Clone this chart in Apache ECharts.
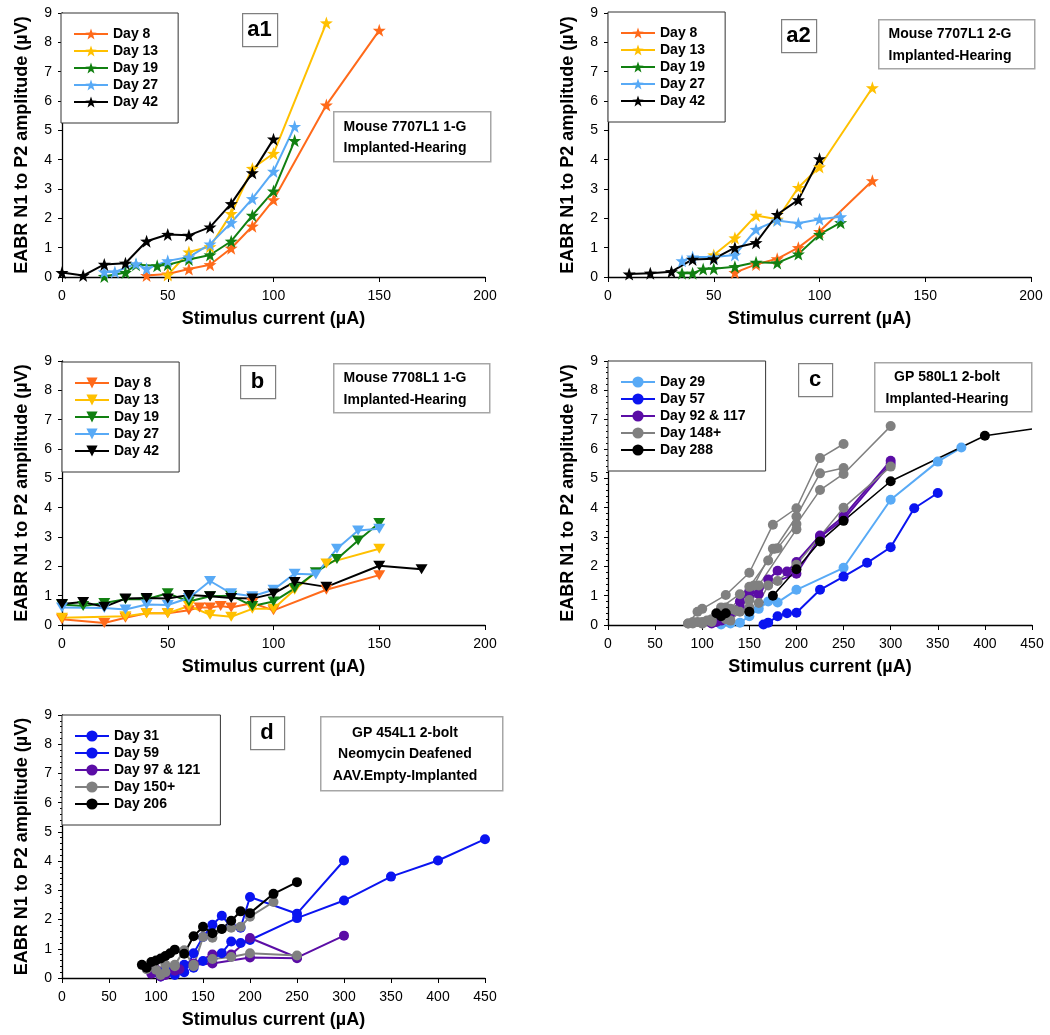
<!DOCTYPE html>
<html>
<head>
<meta charset="utf-8">
<script src="https://cdn.jsdelivr.net/npm/echarts@6/dist/echarts.min.js"></script>
<style>
html, body { margin: 0; padding: 0; background: #fff; }
#chart { width: 1050px; height: 1035px; }
</style>
</head>
<body>
<div id="chart"></div>
<script>
"use strict";

/***** Data start *****/
var xTicksMouse = [0, 50, 100, 150, 200];
var xTicksGP = [0, 50, 100, 150, 200, 250, 300, 350, 400, 450];
var yTicks = [0, 1, 2, 3, 4, 5, 6, 7, 8, 9];

// panel a1 - Mouse 7707L1 1-G
var a1Day8 = [[40,0.05],[50,0.1],[60,0.27],[70,0.42],[80,0.98],[90,1.73],[100,2.63],[125,5.86],[150,8.41]];
var a1Day13 = [[50,0.07],[60,0.85],[70,1.03],[80,2.16],[90,3.7],[100,4.21],[125,8.66]];
var a1Day19 = [[20,0.02],[30,0.15],[35,0.42],[45,0.38],[50,0.42],[60,0.6],[70,0.75],[80,1.22],[90,2.1],[100,2.93],[110,4.65]];
var a1Day27 = [[20,0.17],[25,0.17],[35,0.45],[40,0.28],[50,0.55],[60,0.68],[70,1.12],[80,1.85],[90,2.67],[100,3.6],[110,5.13]];
var a1Day42 = [[0,0.15],[10,0.05],[20,0.43],[30,0.47],[40,1.22],[50,1.45],[60,1.42],[70,1.7],[80,2.5],[90,3.55],[100,4.7]];

// panel a2 - Mouse 7707L1 2-G
var a2Day8 = [[60,0.15],[70,0.43],[80,0.62],[90,1.0],[100,1.55],[125,3.28]];
var a2Day13 = [[50,0.75],[60,1.33],[70,2.1],[80,1.97],[90,3.05],[100,3.75],[125,6.45]];
var a2Day19 = [[35,0.13],[40,0.13],[45,0.27],[50,0.28],[60,0.35],[70,0.5],[80,0.48],[90,0.78],[100,1.45],[110,1.85]];
var a2Day27 = [[35,0.55],[40,0.68],[50,0.68],[60,0.75],[70,1.62],[80,1.93],[90,1.83],[100,1.97],[110,2.05]];
var a2Day42 = [[10,0.1],[20,0.13],[30,0.18],[40,0.6],[50,0.62],[60,1.0],[70,1.17],[80,2.13],[90,2.63],[100,4.03]];

// panel b - Mouse 7708L1 1-G
var bDay8 = [[0,0.2],[20,0.07],[30,0.25],[40,0.4],[50,0.4],[60,0.5],[65,0.6],[70,0.6],[75,0.65],[80,0.6],[90,0.75],[100,0.5],[125,1.2],[150,1.7]];
var bDay13 = [[0,0.25],[30,0.3],[40,0.4],[50,0.4],[60,0.65],[70,0.35],[80,0.28],[90,0.55],[100,0.55],[110,1.2],[125,2.1],[150,2.6]];
var bDay19 = [[0,0.7],[10,0.65],[20,0.75],[30,0.88],[40,0.88],[50,1.08],[60,0.8],[70,0.98],[80,1.0],[90,0.65],[100,0.8],[110,1.25],[120,1.8],[130,2.25],[140,2.88],[150,3.48]];
var bDay27 = [[0,0.6],[20,0.58],[30,0.53],[40,0.7],[50,0.68],[60,0.92],[70,1.5],[80,1.08],[90,0.98],[100,1.2],[110,1.75],[120,1.72],[130,2.6],[140,3.22],[150,3.28]];
var bDay42 = [[0,0.72],[10,0.78],[20,0.62],[30,0.9],[40,0.92],[50,0.9],[60,1.02],[70,0.98],[80,0.92],[90,0.9],[100,1.07],[110,1.47],[125,1.3],[150,2.02],[170,1.9]];

// panel c - GP 580L1 2-bolt
var cDay29 = [[120,0.02],[130,0.05],[140,0.08],[150,0.3],[160,0.55],[170,0.8],[180,0.77],[200,1.2],[250,1.95],[300,4.27],[350,5.57],[375,6.05]];
var cDay57 = [[165,0.02],[170,0.08],[180,0.3],[190,0.4],[200,0.42],[225,1.2],[250,1.65],[275,2.12],[300,2.65],[325,3.98],[350,4.5]];
var cDay92 = [[110,0.05],[120,0.15],[130,0.4],[140,0.8],[150,1.15],[160,1.05],[170,1.55],[180,1.85],[190,1.82],[200,2.15],[225,3.05],[250,3.7],[300,5.6]];
var cDay117 = [[115,0.1],[125,0.3],[140,0.6],[150,0.95],[160,1.25],[200,1.75],[225,3.0],[250,3.6],[300,5.5]];
var cDay148a = [[85,0.05],[95,0.45],[100,0.55],[125,1.02],[150,1.78],[175,3.42],[200,3.98],[225,5.69],[250,6.17]];
var cDay148b = [[90,0.05],[100,0.1],[110,0.2],[130,0.55],[150,1.3],[170,2.2],[177,2.6],[200,3.7],[225,5.17],[250,5.35]];
var cDay148c = [[95,0.1],[105,0.15],[120,0.6],[140,1.05],[155,1.35],[175,2.6],[180,2.62],[200,3.44],[225,4.6],[250,5.15],[300,6.78]];
var cDay148d = [[100,0.05],[110,0.1],[125,0.2],[135,0.5],[150,0.85],[160,0.75],[170,1.35],[180,1.5],[200,2.05],[250,4.0],[300,5.4]];
var cDay148e = [[85,0.05],[90,0.1],[100,0.05],[110,0.15],[125,0.6],[130,0.15],[140,0.45],[150,0.6],[160,1.35],[200,3.26]];
var cDay288 = [[115,0.4],[120,0.3],[125,0.4],[150,0.45],[175,1.0],[200,1.9],[225,2.85],[250,3.55],[300,4.9],[400,6.45],[450,6.68]];

// panel d - GP 454L1 2-bolt
var dDay31 = [[100,0.2],[110,0.3],[120,0.1],[130,0.2],[140,0.85],[150,1.4],[160,1.82],[170,2.13],[180,1.75],[190,1.72],[200,2.77],[250,2.2],[300,4.02]];
var dDay59 = [[105,0.05],[115,0.3],[130,0.45],[140,0.35],[150,0.58],[160,0.65],[170,0.85],[180,1.25],[190,1.2],[200,1.3],[250,2.05],[300,2.65],[350,3.47],[400,4.02],[450,4.75]];
var dDay97 = [[95,0.15],[105,0.05],[120,0.25],[140,0.5],[160,0.8],[180,0.8],[200,1.37],[250,0.7],[300,1.45]];
var dDay121 = [[100,0.3],[110,0.1],[125,0.3],[140,0.45],[160,0.5],[200,0.7],[250,0.68]];
var dDay150a = [[90,0.3],[100,0.28],[110,0.45],[120,0.45],[130,0.95],[140,0.4],[150,1.4],[160,1.38],[170,1.68],[180,1.72],[190,1.75],[200,2.1],[225,2.6]];
var dDay150b = [[105,0.1],[110,0.2],[120,0.4],[140,0.45],[160,0.65],[180,0.72],[200,0.85],[250,0.77]];
var dDay206 = [[85,0.45],[90,0.35],[95,0.55],[100,0.6],[105,0.67],[110,0.75],[115,0.85],[120,0.97],[130,0.83],[140,1.43],[150,1.75],[160,1.53],[170,1.68],[180,1.96],[190,2.28],[200,2.22],[225,2.88],[250,3.28]];
/***** Data end *****/

var FONT = "'Liberation Sans', Arial, sans-serif";
var STAR = 'path://M0,-10L2.35,-3.24L9.51,-3.09L3.8,1.24L5.88,8.09L0,4L-5.88,8.09L-3.8,1.24L-9.51,-3.09L-2.35,-3.24Z';
var TRI = 'path://M-10,-8L10,-8L0,9Z';

var ORANGE = '#ff6a1a', YELLOW = '#ffc000', GREEN = '#118011', LBLUE = '#58aaf6', BLACK = '#000000';
var BLUE = '#0a14f0', PURPLE = '#5b0da6', GRAY = '#808080';

// panel boxes: plot area rect in page pixels
var panels = [
	{ left: 62, top: 13, width: 423, height: 264, xMax: 200, minor: false },
	{ left: 608, top: 13, width: 423, height: 264, xMax: 200, minor: false },
	{ left: 62, top: 361, width: 423, height: 264, xMax: 200, minor: false },
	{ left: 608, top: 361, width: 424, height: 264, xMax: 450, minor: true },
	{ left: 62, top: 715, width: 423, height: 263, xMax: 450, minor: true }
];

var grids = [], xAxes = [], yAxes = [];
panels.forEach(function (p) {
	grids.push({ left: p.left, top: p.top, width: p.width, height: p.height, containLabel: false });
	xAxes.push({
		type: 'value', gridIndex: grids.length - 1, min: 0, max: p.xMax, interval: 50,
		name: 'Stimulus current (\u00b5A)', nameLocation: 'middle', nameGap: 33,
		nameTextStyle: { fontFamily: FONT, fontWeight: 'bold', fontSize: 18, color: '#000' },
		axisLine: { lineStyle: { color: '#000', width: 1.3 } },
		axisTick: { show: true, length: 5, lineStyle: { color: '#000' } },
		axisLabel: { fontFamily: FONT, fontSize: 14, color: '#000', margin: 12 },
		splitLine: { show: false }
	});
	yAxes.push({
		type: 'value', gridIndex: grids.length - 1, min: 0, max: 9, interval: 1,
		name: 'EABR N1 to P2 amplitude (\u00b5V)', nameLocation: 'middle', nameGap: 31,
		nameTextStyle: { fontFamily: FONT, fontWeight: 'bold', fontSize: 18, color: '#000' },
		axisLine: { show: true, lineStyle: { color: '#000', width: 1.3 } },
		axisTick: { show: true, length: 4, lineStyle: { color: '#000' } },
		minorTick: { show: p.minor, splitNumber: 5, length: 2, lineStyle: { color: '#000' } },
		axisLabel: { fontFamily: FONT, fontSize: 14, color: '#000', margin: 10 },
		splitLine: { show: false }
	});
});

var series = [];
function addLine(panel, name, data, color, symbol, size, width) {
	series.push({
		type: 'line', name: name, xAxisIndex: panel, yAxisIndex: panel,
		data: data, symbol: symbol, symbolSize: size, showAllSymbol: true,
		lineStyle: { color: color, width: width || 2 },
		itemStyle: { color: color },
		emphasis: { disabled: true }, animation: false
	});
}

// a1
addLine(0, 'Day 8', a1Day8, ORANGE, STAR, 13);
addLine(0, 'Day 13', a1Day13, YELLOW, STAR, 13);
addLine(0, 'Day 19', a1Day19, GREEN, STAR, 13);
addLine(0, 'Day 27', a1Day27, LBLUE, STAR, 13);
addLine(0, 'Day 42', a1Day42, BLACK, STAR, 13);
// a2 (trailing space keeps legends separate)
addLine(1, 'Day 8 ', a2Day8, ORANGE, STAR, 13);
addLine(1, 'Day 13 ', a2Day13, YELLOW, STAR, 13);
addLine(1, 'Day 19 ', a2Day19, GREEN, STAR, 13);
addLine(1, 'Day 27 ', a2Day27, LBLUE, STAR, 13);
addLine(1, 'Day 42 ', a2Day42, BLACK, STAR, 13);
// b
addLine(2, 'Day 8  ', bDay8, ORANGE, TRI, [12, 10]);
addLine(2, 'Day 13  ', bDay13, YELLOW, TRI, [12, 10]);
addLine(2, 'Day 19  ', bDay19, GREEN, TRI, [12, 10]);
addLine(2, 'Day 27  ', bDay27, LBLUE, TRI, [12, 10]);
addLine(2, 'Day 42  ', bDay42, BLACK, TRI, [12, 10]);
// c
addLine(3, 'Day 29', cDay29, LBLUE, 'circle', 10);
addLine(3, 'Day 57', cDay57, BLUE, 'circle', 10);
addLine(3, 'Day 92 & 117', cDay92, PURPLE, 'circle', 10);
addLine(3, 'Day 92 & 117', cDay117, PURPLE, 'circle', 10);
addLine(3, 'Day 148+', cDay148a, GRAY, 'circle', 10, 1.5);
addLine(3, 'Day 148+', cDay148b, GRAY, 'circle', 10, 1.5);
addLine(3, 'Day 148+', cDay148c, GRAY, 'circle', 10, 1.5);
addLine(3, 'Day 148+', cDay148d, GRAY, 'circle', 10, 1.5);
addLine(3, 'Day 148+', cDay148e, GRAY, 'circle', 10, 1.5);
addLine(3, 'Day 288', cDay288.map(function (d, i) {
	return i === cDay288.length - 1 ? { value: d, symbol: 'none' } : d;
}), BLACK, 'circle', 10, 1.5);
// d
addLine(4, 'Day 31', dDay31, BLUE, 'circle', 10);
addLine(4, 'Day 59', dDay59, BLUE, 'circle', 10);
addLine(4, 'Day 97 & 121', dDay97, PURPLE, 'circle', 10);
addLine(4, 'Day 97 & 121', dDay121, PURPLE, 'circle', 10);
addLine(4, 'Day 150+', dDay150a, GRAY, 'circle', 10);
addLine(4, 'Day 150+', dDay150b, GRAY, 'circle', 10);
addLine(4, 'Day 206', dDay206, BLACK, 'circle', 10);

function legendAt(left, top, names) {
	return {
		left: left, top: top, orient: 'vertical', data: names,
		itemWidth: 34, itemHeight: 14, itemGap: 3,
		padding: [14, 20, 14, 12],
		backgroundColor: '#fff', borderColor: '#333', borderWidth: 1,
		selectedMode: false,
		formatter: function (n) { return n.trim(); },
		textStyle: { fontFamily: FONT, fontWeight: 'bold', fontSize: 14, color: '#000', lineHeight: 14 }
	};
}

var legends = [
	legendAt(61, 13, ['Day 8', 'Day 13', 'Day 19', 'Day 27', 'Day 42']),
	legendAt(608, 12, ['Day 8 ', 'Day 13 ', 'Day 19 ', 'Day 27 ', 'Day 42 ']),
	legendAt(62, 362, ['Day 8  ', 'Day 13  ', 'Day 19  ', 'Day 27  ', 'Day 42  ']),
	legendAt(608, 361, ['Day 29', 'Day 57', 'Day 92 & 117', 'Day 148+', 'Day 288']),
	legendAt(62, 715, ['Day 31', 'Day 59', 'Day 97 & 121', 'Day 150+', 'Day 206'])
];

// boxed panel tags and note boxes
var graphics = [];
function tag(x, y, w, h, text) {
	graphics.push({ type: 'rect', left: x, top: y, shape: { width: w, height: h }, style: { fill: '#fff', stroke: '#7f7f7f', lineWidth: 1.2 }, z: 50 });
	graphics.push({ type: 'text', x: x + w / 2, y: y + h / 2, style: { text: text, font: 'bold 22px ' + FONT, fill: '#000', textAlign: 'center', textVerticalAlign: 'middle' }, z: 51 });
}
function note(x, y, w, h, lines, cx, firstY, gap) {
	graphics.push({ type: 'rect', left: x, top: y, shape: { width: w, height: h }, style: { fill: '#fff', stroke: '#a6a6a6', lineWidth: 1.5 }, z: 50 });
	lines.forEach(function (t, i) {
		graphics.push({ type: 'text', x: cx, y: firstY + i * gap, style: { text: t, font: 'bold 14px ' + FONT, fill: '#000', textAlign: 'center', textVerticalAlign: 'middle' }, z: 51 });
	});
}
tag(242, 13, 35, 33, 'a1');
tag(781, 19, 35, 33, 'a2');
tag(240, 365, 35, 33, 'b');
tag(798, 363, 34, 33, 'c');
tag(250, 716, 34, 33, 'd');
note(333, 111, 157, 50, ['Mouse 7707L1 1-G', 'Implanted-Hearing'], 405, 127, 21);
note(878, 19, 156, 49, ['Mouse 7707L1 2-G', 'Implanted-Hearing'], 950, 34, 22);
note(333, 363, 156, 49, ['Mouse 7708L1 1-G', 'Implanted-Hearing'], 405, 378, 22);
note(874, 362, 157, 49, ['GP 580L1 2-bolt', 'Implanted-Hearing'], 947, 377, 22);
note(320, 716, 182, 74, ['GP 454L1 2-bolt', 'Neomycin Deafened', 'AAV.Empty-Implanted'], 405, 733, 21.5);

var chart = echarts.init(document.getElementById('chart'), null, { renderer: 'canvas' });
chart.setOption({
	animation: false,
	backgroundColor: '#fff',
	textStyle: { fontFamily: FONT },
	grid: grids,
	xAxis: xAxes,
	yAxis: yAxes,
	legend: legends,
	series: series,
	graphic: graphics
});
</script>
</body>
</html>
